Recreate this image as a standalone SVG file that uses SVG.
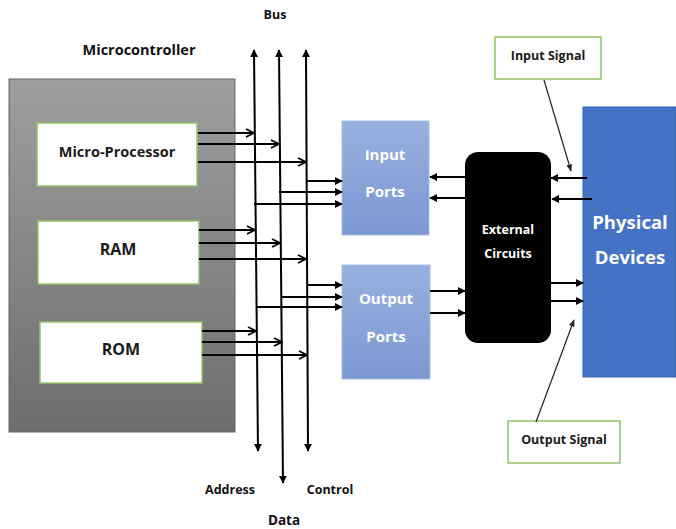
<svg xmlns="http://www.w3.org/2000/svg" width="676" height="529" viewBox="0 0 676 529">
<style>
text{font-family:"Open Sans",Lato,"Liberation Sans",sans-serif;font-weight:bold;text-anchor:middle}
.lbl{fill:#1a1a1a}
.box{fill:#fff;stroke:#92c46a;stroke-width:1.5}
.w{fill:#fff}
.bus{stroke:#000;stroke-width:2;fill:none;marker-start:url(#tris);marker-end:url(#tri)}
.ar{stroke:#000;stroke-width:2;fill:none;marker-end:url(#open)}
.af{stroke:#000;stroke-width:2;fill:none;marker-end:url(#tri)}
.sig{stroke:#222;stroke-width:1.2;fill:none;marker-end:url(#tri2)}
</style>
<defs>
<linearGradient id="gray" x1="0" y1="0" x2="0" y2="1"><stop offset="0" stop-color="#9e9e9e"/><stop offset="1" stop-color="#6e6e6e"/></linearGradient>
<linearGradient id="port" x1="0" y1="0" x2="0" y2="1"><stop offset="0" stop-color="#97b0df"/><stop offset="1" stop-color="#7c98d2"/></linearGradient>
<marker id="open" viewBox="0 0 10 10" refX="9" refY="5" markerWidth="5" markerHeight="5" orient="auto" markerUnits="strokeWidth"><path d="M1,1 L9,5 L1,9" fill="none" stroke="#000" stroke-width="1.8"/></marker>
<marker id="tri" viewBox="0 0 10 10" refX="9" refY="5" markerWidth="4" markerHeight="4" orient="auto" markerUnits="strokeWidth"><path d="M0,0 L10,5 L0,10 z" fill="#000"/></marker>
<marker id="tris" viewBox="0 0 10 10" refX="9" refY="5" markerWidth="4" markerHeight="4" orient="auto-start-reverse" markerUnits="strokeWidth"><path d="M0,0 L10,5 L0,10 z" fill="#000"/></marker>
<marker id="tri2" viewBox="0 0 10 10" refX="9" refY="5" markerWidth="6" markerHeight="6" orient="auto" markerUnits="strokeWidth"><path d="M0,1 L10,5 L0,9 z" fill="#222"/></marker>
</defs>
<rect width="676" height="529" fill="#fff"/>

<g id="microcontroller">
<text x="139" y="55" style="font-size:14.5px" fill="#111">Microcontroller</text>
<rect x="9" y="79" width="226" height="353" fill="url(#gray)" stroke="#666" stroke-width="1"/>
</g>
<g id="microprocessor"><rect class="box" x="37" y="123" width="160" height="63"/><text class="lbl" x="117" y="157" style="font-size:14.5px">Micro-Processor</text></g>
<g id="ram"><rect class="box" x="38" y="221" width="161" height="63"/><text class="lbl" x="118" y="255" style="font-size:16px">RAM</text></g>
<g id="rom"><rect class="box" x="40" y="322" width="162" height="61"/><text class="lbl" x="121" y="355" style="font-size:16px">ROM</text></g>

<g id="input-ports"><rect x="342" y="121" width="87" height="114" fill="url(#port)" stroke="#a9bde6" stroke-width="1"/><text class="w" x="385" y="160" style="font-size:15px">Input</text><text class="w" x="385" y="197" style="font-size:15px">Ports</text></g>
<g id="output-ports"><rect x="342" y="265" width="88" height="114" fill="url(#port)" stroke="#a9bde6" stroke-width="1"/><text class="w" x="386" y="304" style="font-size:15px">Output</text><text class="w" x="386" y="342" style="font-size:15px">Ports</text></g>
<g id="external-circuits"><rect x="465" y="152" width="86" height="191" rx="13" fill="#000"/><text class="w" x="508" y="234" style="font-size:12.5px">External</text><text class="w" x="508" y="258" style="font-size:12.5px">Circuits</text></g>
<g id="physical-devices"><rect x="583" y="107" width="93" height="270" fill="#4472c4" stroke="#3b65b3" stroke-width="1"/><text class="w" x="630" y="229" style="font-size:18.5px">Physical</text><text class="w" x="630" y="264" style="font-size:18.5px">Devices</text></g>
<g id="input-signal"><rect class="box" x="495" y="37" width="106" height="42"/><text class="lbl" x="548" y="60" style="font-size:12.5px">Input Signal</text></g>
<g id="output-signal"><rect class="box" x="508" y="421" width="112" height="42"/><text class="lbl" x="564" y="444" style="font-size:12.5px">Output Signal</text></g>

<g id="bus-labels" fill="#111">
<text x="275" y="19" style="font-size:12.5px">Bus</text>
<text x="230" y="494" style="font-size:12.5px">Address</text>
<text x="330" y="494" style="font-size:12.5px">Control</text>
<text x="284" y="525" style="font-size:13.5px">Data</text>
</g>

<g id="connectors">
<path class="bus" d="M254,50 L258,451"/>
<path class="bus" d="M279,50 L283,483"/>
<path class="bus" d="M306,50 L308,451"/>
<path class="ar" d="M198,133 H254"/>
<path class="ar" d="M198,144 H279"/>
<path class="ar" d="M198,162 H306"/>
<path class="ar" d="M199,230 H255"/>
<path class="ar" d="M199,243 H280"/>
<path class="ar" d="M199,259 H306"/>
<path class="ar" d="M202,331 H256"/>
<path class="ar" d="M202,342 H282"/>
<path class="ar" d="M202,355 H307"/>
<path class="af" d="M306,181 H342"/>
<path class="af" d="M279,192 H342"/>
<path class="af" d="M254,204 H342"/>
<path class="af" d="M307,285 H342"/>
<path class="af" d="M281,297 H342"/>
<path class="af" d="M256,307 H342"/>
<path class="af" d="M465,177 H430"/>
<path class="af" d="M465,198 H430"/>
<path class="af" d="M430,291 H465"/>
<path class="af" d="M430,313 H465"/>
<path class="af" d="M587,178 H551"/>
<path class="af" d="M592,199 H552"/>
<path class="af" d="M551,283 H583"/>
<path class="af" d="M551,301 H583"/>
<path class="sig" d="M544,80 L571,171"/>
<path class="sig" d="M536,422 L574,320"/>
</g>
</svg>
